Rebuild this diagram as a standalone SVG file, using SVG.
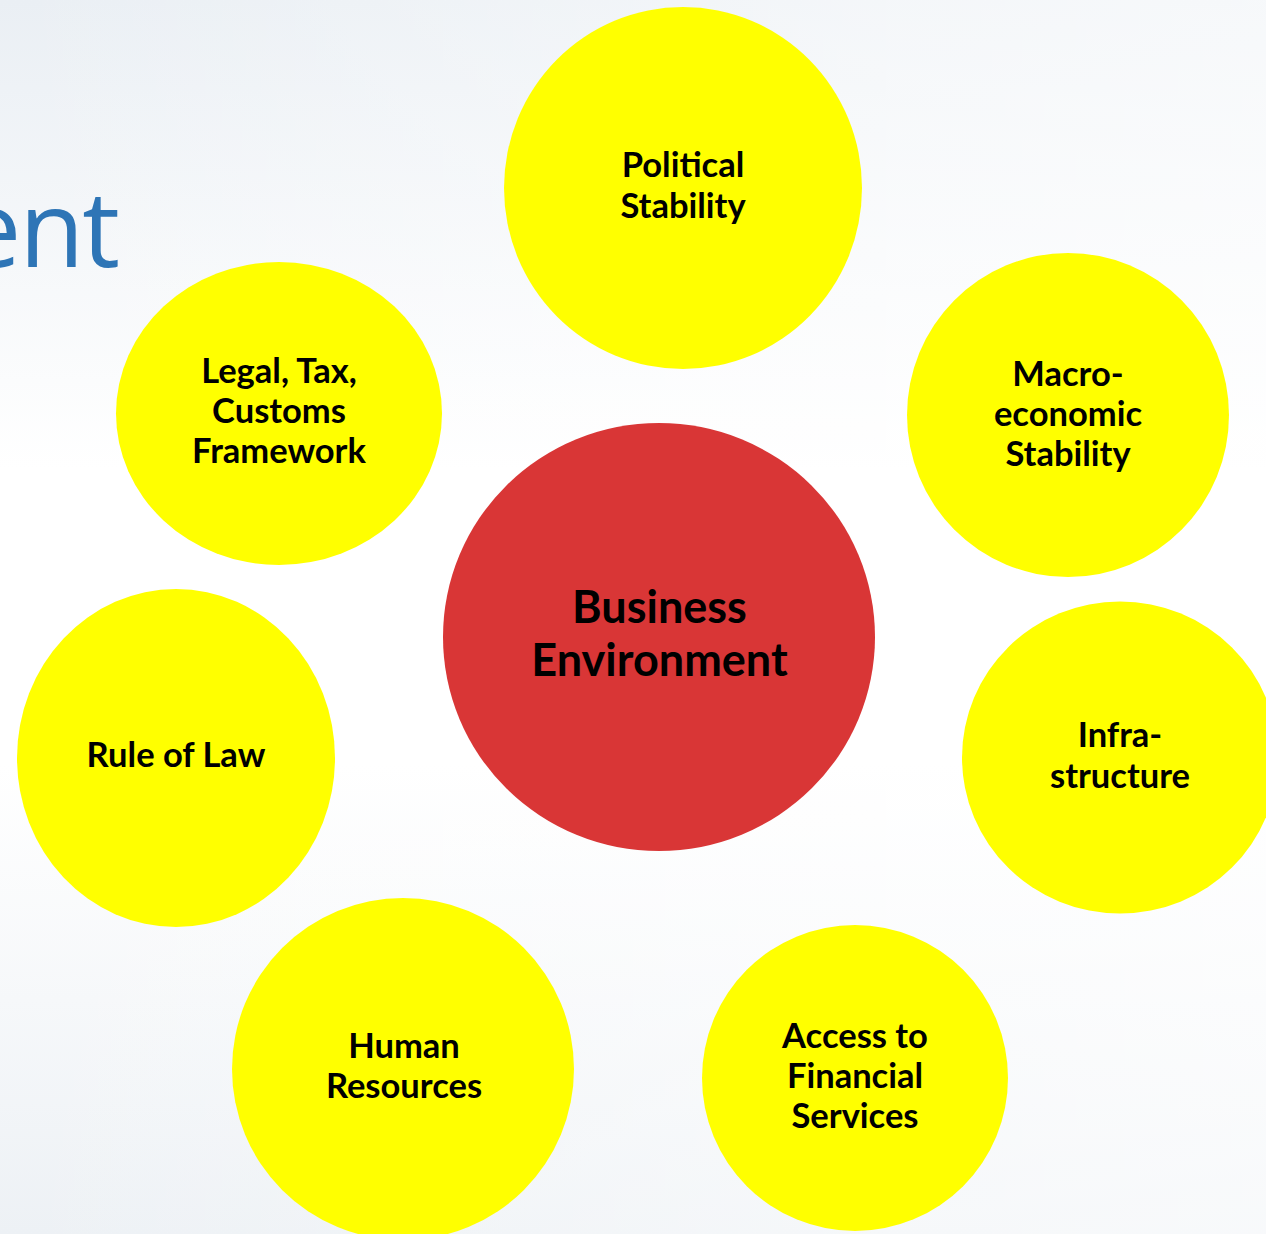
<svg xmlns="http://www.w3.org/2000/svg" width="1266" height="1234" viewBox="0 0 1266 1234">
  <defs>
    <linearGradient id="bg" x1="0" y1="0" x2="0" y2="1">
      <stop offset="0" stop-color="#EAEFF4"/>
      <stop offset="0.38" stop-color="#FFFFFF"/>
      <stop offset="0.62" stop-color="#FFFFFF"/>
      <stop offset="1" stop-color="#EDF1F5"/>
    </linearGradient>
    <linearGradient id="bgh" x1="0" y1="0" x2="1" y2="0">
      <stop offset="0" stop-color="#FFFFFF" stop-opacity="0"/>
      <stop offset="0.7" stop-color="#FFFFFF" stop-opacity="0.5"/>
      <stop offset="1" stop-color="#FFFFFF" stop-opacity="0.6"/>
    </linearGradient>
  </defs>
  <style>
    .sat { fill: #FFFF00; }
    .core { fill: #D93636; }
    .lbl { font-family: Lato, "Liberation Sans", sans-serif; font-weight: 700; font-size: 34.5px; fill: #000000; text-anchor: middle; }
    .big { font-size: 45px; }
    .title { font-family: "Open Sans", "Liberation Sans", sans-serif; font-size: 106px; letter-spacing: -2px; fill: #2E75B6; text-anchor: end; }
  </style>
  <rect x="0" y="0" width="1266" height="1234" fill="url(#bg)"/>
  <rect x="0" y="0" width="1266" height="1234" fill="url(#bgh)"/>
  <text class="title" x="118" y="267">ent</text>
  <g id="connectors"/>
  <g id="node-political">
    <ellipse class="sat" cx="683" cy="188" rx="179" ry="181"/>
    <text class="lbl" x="683" y="177">Political</text>
    <text class="lbl" x="683" y="218">Stability</text>
  </g>
  <g id="node-legal">
    <ellipse class="sat" cx="279" cy="413.5" rx="163" ry="151.5"/>
    <text class="lbl" x="279" y="383">Legal, Tax,</text>
    <text class="lbl" x="279" y="423">Customs</text>
    <text class="lbl" x="279" y="463">Framework</text>
  </g>
  <g id="node-macro">
    <ellipse class="sat" cx="1068" cy="415" rx="161" ry="162"/>
    <text class="lbl" x="1068" y="386">Macro-</text>
    <text class="lbl" x="1068" y="426">economic</text>
    <text class="lbl" x="1068" y="466">Stability</text>
  </g>
  <g id="node-rule">
    <ellipse class="sat" cx="176" cy="758" rx="159" ry="169"/>
    <text class="lbl" x="176" y="767">Rule of Law</text>
  </g>
  <g id="node-infra">
    <ellipse class="sat" cx="1120" cy="757.5" rx="158" ry="156"/>
    <text class="lbl" x="1120" y="747">Infra-</text>
    <text class="lbl" x="1120" y="788">structure</text>
  </g>
  <g id="node-human">
    <ellipse class="sat" cx="403" cy="1069" rx="171" ry="171"/>
    <text class="lbl" x="404" y="1058">Human</text>
    <text class="lbl" x="404" y="1098">Resources</text>
  </g>
  <g id="node-access">
    <ellipse class="sat" cx="855" cy="1078" rx="153" ry="153"/>
    <text class="lbl" x="855" y="1048">Access to</text>
    <text class="lbl" x="855" y="1088">Financial</text>
    <text class="lbl" x="855" y="1128">Services</text>
  </g>
  <g id="node-business">
    <ellipse class="core" cx="659" cy="637" rx="216" ry="214"/>
    <text class="lbl big" x="659.5" y="623">Business</text>
    <text class="lbl big" x="659.5" y="676">Environment</text>
  </g>
</svg>
